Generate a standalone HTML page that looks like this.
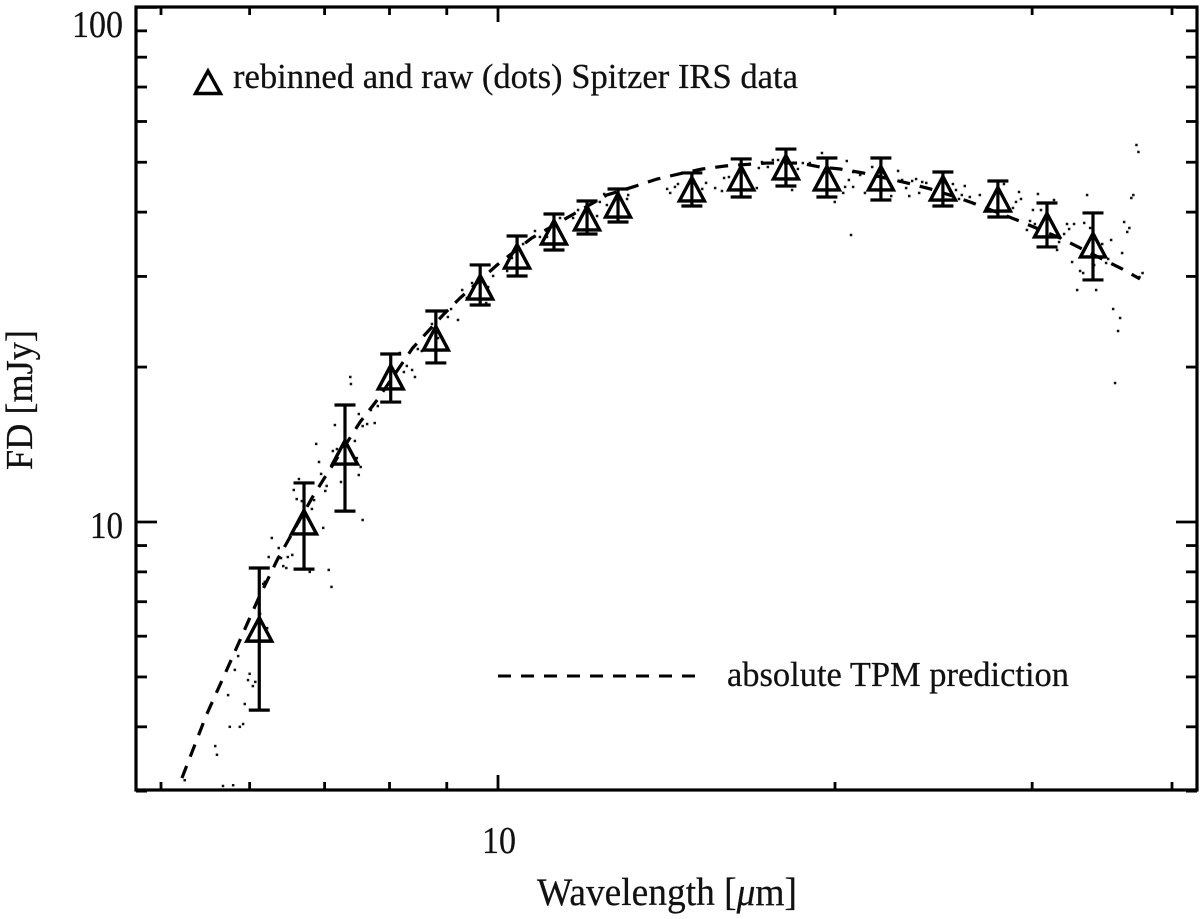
<!DOCTYPE html>
<html lang="en">
<head>
<meta charset="utf-8">
<title>Spitzer IRS spectrum and TPM prediction</title>
<style>
html,body{margin:0;padding:0;background:#fff;}
svg{display:block;}
text{font-family:"Liberation Serif","DejaVu Serif",serif;fill:#111;stroke:#111;stroke-width:0.25px;}
</style>
</head>
<body>
<svg id="chart" xmlns="http://www.w3.org/2000/svg" width="1200" height="919" viewBox="0 0 1200 919">
  <rect x="0" y="0" width="1200" height="919" fill="#fff"/>
  <g id="raw-layer"></g>
  <g id="model-layer"></g>
  <g id="binned-layer"></g>
  <g id="tick-layer"></g>
  <rect x="136" y="7" width="1061" height="783" fill="none" stroke="#000" stroke-width="3.2"/>
  <g id="label-layer"></g>
  <text x="537" y="905" font-size="39" textLength="260" lengthAdjust="spacingAndGlyphs">Wavelength [<tspan font-style="italic">μ</tspan>m]</text>
  <text transform="translate(32,470) rotate(-90)" x="0" y="0" font-size="38" textLength="140" lengthAdjust="spacingAndGlyphs">FD [mJy]</text>
  <g>
    <polygon points="208,71 195.500,93.500 220.500,93.500" fill="none" stroke="#000" stroke-width="3.4"/>
    <text x="233" y="88" font-size="35" textLength="565" lengthAdjust="spacingAndGlyphs">rebinned and raw (dots) Spitzer IRS data</text>
  </g>
  <g>
    <line x1="498" y1="676" x2="695" y2="676" stroke="#000" stroke-width="3" stroke-dasharray="13 10"/>
    <text x="727" y="686" font-size="35" textLength="342" lengthAdjust="spacingAndGlyphs">absolute TPM prediction</text>
  </g>
</svg>
<script>
const xTickValues = [5, 6, 7, 8, 9, 10, 20, 30, 40];
const xMajorTicks = [10];
const yTickValues = [3, 4, 5, 6, 7, 8, 9, 10, 20, 30, 40, 50, 60, 70, 80, 90, 100];
const yMajorTicks = [10, 100];
const xTickLabels = [10];
const yTickLabels = [10, 100];

const binWave = [6.12, 6.71, 7.30, 8.02, 8.80, 9.64, 10.40, 11.22, 12.01, 12.80, 14.90, 16.49, 18.08, 19.67, 21.98, 24.97, 27.96, 30.93, 34.00];
const binFlux = [6.11, 9.87, 13.49, 18.88, 22.47, 28.23, 32.43, 36.11, 38.45, 40.74, 43.77, 45.98, 48.30, 45.98, 45.98, 43.96, 41.85, 37.26, 34.08];
const binHigh = [8.14, 11.91, 16.88, 21.20, 25.70, 31.58, 35.95, 39.66, 42.04, 44.36, 47.66, 50.74, 53.04, 50.95, 50.95, 47.86, 45.98, 41.67, 39.85];
const binLow = [4.31, 8.10, 10.50, 17.10, 20.37, 26.40, 30.06, 33.77, 36.27, 38.27, 41.11, 42.80, 44.96, 42.80, 42.23, 41.11, 39.13, 34.23, 29.53];

const modelWave = [5.22, 5.49, 5.76, 6.10, 6.35, 6.82, 6.98, 7.53, 7.80, 8.39, 8.93, 9.25, 9.98, 10.72, 11.60, 12.51, 13.20, 13.87, 14.63, 15.22, 15.95, 17.38, 18.61, 19.39, 20.21, 21.19, 23.19, 24.33, 25.49, 26.55, 29.08, 31.78, 33.11, 36.10, 37.45];
const modelFlux = [3.18, 4.22, 5.32, 7.05, 8.44, 11.13, 12.07, 15.64, 17.26, 21.78, 25.24, 27.24, 31.57, 35.63, 39.31, 43.18, 44.77, 46.38, 47.65, 48.51, 49.17, 49.82, 49.82, 48.95, 48.51, 47.65, 45.58, 44.37, 42.98, 41.67, 38.61, 35.63, 34.07, 31.02, 29.66];

const rawWave = [5.25, 5.68, 5.80, 5.59, 5.61, 5.76, 5.88, 5.92, 5.94, 5.74, 6.04, 6.07, 5.98, 6.00, 5.82, 5.86, 6.22, 6.13, 6.17, 6.19, 6.24, 6.33, 6.36, 6.40, 6.49, 6.55, 6.37, 6.28, 6.43, 6.47, 6.79, 7.06, 7.10, 6.98, 6.82, 6.85, 6.61, 6.68, 6.57, 6.64, 7.01, 7.03, 6.95, 6.92, 6.88, 7.57, 7.24, 7.51, 7.54, 7.48, 7.12, 7.18, 7.45, 7.15, 7.57, 7.64, 7.76, 7.51, 7.70, 7.81, 7.38, 7.39,
  8.43, 8.38, 8.29, 8.24, 8.17, 8.48, 8.55, 8.84, 8.73, 9.02, 9.21, 9.08, 9.29, 9.48, 9.80, 9.76, 9.38, 9.90, 10.19, 10.53, 10.29, 10.79, 10.90, 11.06, 11.36, 11.79, 11.67, 12.33, 12.26, 12.44, 12.51, 13.07, 13.04, 14.16, 14.25, 14.39, 14.48, 15.22, 15.34, 15.63, 15.85, 15.92, 16.08, 17.03, 17.21, 17.10, 17.42, 17.60, 17.79, 18.31,
  18.53, 18.72, 18.99, 19.47, 20.49, 19.99, 20.34, 20.42, 20.58, 20.76, 20.76, 20.67, 21.06, 21.27, 21.59, 22.45, 22.77, 22.96, 23.15, 23.30, 23.44, 23.63, 23.78, 23.93, 24.13, 25.49, 25.65, 25.81, 25.96, 26.12, 26.39, 26.94, 28.31, 28.84, 29.02, 29.20, 29.32, 29.87, 29.68, 30.05, 30.17, 30.36, 30.55, 31.38, 31.58, 31.71, 32.04, 32.23, 32.37, 32.70, 32.57, 32.91, 33.11, 33.32, 33.39, 33.59, 33.80, 34.22, 34.08, 34.65, 34.93, 35.08, 35.29, 35.44, 35.58, 35.80, 35.95, 36.10, 36.25, 36.48, 36.64, 36.79, 36.94, 37.18, 37.33, 37.41, 37.65];
const rawFlux = [3.15, 3.07, 3.08, 3.67, 3.53, 4.00, 4.00, 4.05, 4.43, 4.61, 4.80, 4.89, 4.93, 5.07, 5.16, 5.49, 6.22, 6.63, 7.58, 7.65, 8.55, 8.33, 8.51, 8.51, 8.55, 8.63, 8.90, 9.31, 8.21, 8.14, 8.00, 8.07, 7.48, 9.74, 10.60, 11.03, 11.08, 10.98, 11.54, 12.12, 11.49, 11.75, 12.40, 13.08, 14.18, 10.09, 11.96, 12.34, 12.79, 13.31, 13.74, 13.86, 14.37, 15.43, 15.36, 15.50, 15.57, 16.21, 16.50, 16.80, 19.13, 18.54,
  19.13, 19.74, 20.10, 19.56, 21.30, 21.68, 21.49, 22.77, 24.25, 25.02, 24.69, 25.93, 28.23, 29.13, 28.61, 26.64, 27.24, 30.06, 30.74, 34.68, 32.58, 36.76, 35.79, 35.79, 38.96, 40.38, 38.96, 41.86, 39.31, 43.38, 41.29, 43.18, 42.42, 44.37, 43.58, 44.77, 45.36, 44.37, 45.58, 44.55, 43.96, 46.60, 46.80, 44.55, 50.04, 48.73, 48.95, 50.50, 50.50, 44.16,
  48.51, 49.82, 49.82, 52.11, 50.28, 41.86, 43.58, 44.77, 46.18, 47.86, 44.77, 36.11, 47.23, 43.58, 48.95, 42.98, 48.09, 46.18, 44.55, 42.98, 45.98, 46.38, 43.58, 45.77, 45.58, 45.36, 44.16, 42.42, 43.18, 44.96, 42.80, 43.18, 45.36, 40.75, 41.86, 43.77, 42.42, 38.45, 36.93, 40.38, 37.93, 43.38, 40.38, 42.23, 33.77, 34.99, 36.27, 37.93, 37.09, 37.93, 32.00, 28.23, 30.74, 30.46, 38.11, 43.18, 37.26, 28.23, 31.57, 34.68, 31.86, 32.44, 35.31, 25.93, 18.62, 23.50, 24.91, 33.31, 38.27, 36.60, 37.26, 42.61, 43.18, 54.01, 52.35, 29.92, 30.46];

const SVG_NS = 'http://www.w3.org/2000/svg';
function xScale(w) { return 498 + 1119.5 * Math.log10(w / 10); }
function yScale(f) { return 522 - 514.7 * Math.log10(f / 10); }
function make(tag, attrs, parent) {
  const el = document.createElementNS(SVG_NS, tag);
  for (const k in attrs) el.setAttribute(k, attrs[k]);
  parent.appendChild(el);
  return el;
}

const rawLayer = document.getElementById('raw-layer');
rawWave.forEach(function (w, i) {
  const dot = make('rect', { x: xScale(w) - 1.25, y: yScale(rawFlux[i]) - 1.25, width: 2.5, height: 2.5, fill: '#111' }, rawLayer);
  
  
});

const modelLayer = document.getElementById('model-layer');
const modelPath = make('polyline', {
  points: modelWave.map(function (w, i) { return xScale(w) + ',' + yScale(modelFlux[i]); }).join(' '),
  fill: 'none', stroke: '#000', 'stroke-width': 3.2, 'stroke-dasharray': '13 10'
}, modelLayer);



const binnedLayer = document.getElementById('binned-layer');
binWave.forEach(function (w, i) {
  const px = xScale(w);
  const py = yScale(binFlux[i]);
  const hi = yScale(binHigh[i]);
  const lo = yScale(binLow[i]);
  const d = 'M' + px + ' ' + hi + 'V' + lo +
            'M' + (px - 10.5) + ' ' + hi + 'H' + (px + 10.5) +
            'M' + (px - 10.5) + ' ' + lo + 'H' + (px + 10.5);
  const bar = make('path', { d: d, fill: 'none', stroke: '#000', 'stroke-width': 3.2 }, binnedLayer);
  
  
  const tri = make('polygon', {
    points: px + ',' + (py - 14.5) + ' ' + (px - 12.5) + ',' + (py + 9) + ' ' + (px + 12.5) + ',' + (py + 9),
    fill: 'none', stroke: '#000', 'stroke-width': 3.4
  }, binnedLayer);
  
  
});

const tickLayer = document.getElementById('tick-layer');
xTickValues.forEach(function (v) {
  const len = xMajorTicks.indexOf(v) >= 0 ? 15 : 8;
  const px = xScale(v);
  const b = make('line', { x1: px, y1: 790, x2: px, y2: 790 - len, stroke: '#000', 'stroke-width': 2.8 }, tickLayer);
  
  
  const t = make('line', { x1: px, y1: 7, x2: px, y2: 7 + len, stroke: '#000', 'stroke-width': 2.8 }, tickLayer);
  
  
});
yTickValues.forEach(function (v) {
  const len = yMajorTicks.indexOf(v) >= 0 ? 21 : 11;
  const py = yScale(v);
  const l = make('line', { x1: 136, y1: py, x2: 136 + len, y2: py, stroke: '#000', 'stroke-width': 2.8 }, tickLayer);
  
  
  const r = make('line', { x1: 1197, y1: py, x2: 1197 - len, y2: py, stroke: '#000', 'stroke-width': 2.8 }, tickLayer);
  
  
});

const labelLayer = document.getElementById('label-layer');
xTickLabels.forEach(function (v) {
  const t = make('text', { x: xScale(v) - 16, y: 853, 'font-size': 38, textLength: 34, lengthAdjust: 'spacingAndGlyphs' }, labelLayer);
  
  
  t.textContent = String(v);
});
yTickLabels.forEach(function (v) {
  const top = v === 100;
  const t = make('text', { x: top ? 72 : 90, y: top ? 37 : yScale(v) + 16, 'font-size': 38, textLength: top ? 51 : 33, lengthAdjust: 'spacingAndGlyphs' }, labelLayer);
  
  
  t.textContent = String(v);
});
</script>
</body>
</html>
